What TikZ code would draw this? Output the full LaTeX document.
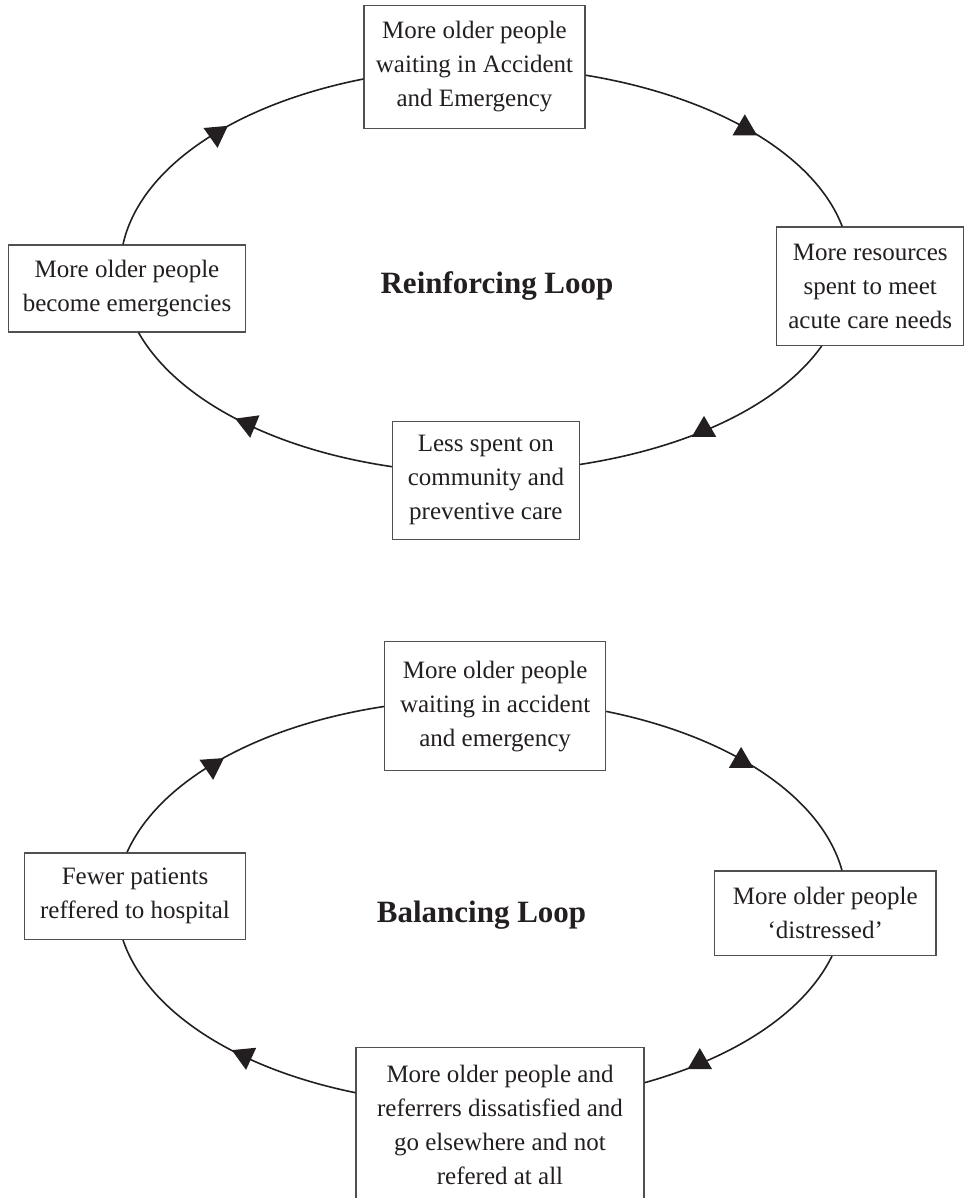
\documentclass[tikz,border=0pt]{standalone}
\usepackage{fontspec}
\setmainfont{Liberation Serif}
\definecolor{ink}{HTML}{231F20}
\definecolor{boxline}{HTML}{505050}
\tikzset{
  causebox/.style={draw=boxline, line width=1.1pt, fill=white, align=center,
    inner sep=0pt, text=ink, font=\fontsize{25}{34}\selectfont},
  looptitle/.style={inner sep=0pt, text=ink, font=\fontsize{31}{36}\selectfont\bfseries},
  loopline/.style={draw=ink, line width=1.6pt},
  headfill/.style={fill=ink},
  headup/.pic={\fill[headfill] (0,14) -- (-12.25,-7) -- (12.25,-7) -- cycle;},
  headdown/.pic={\fill[headfill] (-12.25,7) -- (12.25,7) -- (0,-14) -- cycle;}
}
\begin{document}
\begin{tikzpicture}[x=1pt, y=1pt]
\useasboundingbox (0,0) rectangle (965,-1198);
\clip (0,0) rectangle (965,-1198);

% ---------- reinforcing loop ----------
\node[causebox, minimum width=221pt, minimum height=123pt] (ta) at (474.5,-66.8)
  {More older people\\waiting in Accident\\and Emergency};
\node[causebox, minimum width=186.6pt, minimum height=118.4pt] (ra) at (870.2,-286.2)
  {More resources\\spent to meet\\acute care needs};
\node[causebox, minimum width=186.3pt, minimum height=118pt] (ba) at (485.9,-480.2)
  {Less spent on\\community and\\preventive care};
\node[causebox, minimum width=237pt, minimum height=87pt] (la) at (127,-288.5)
  {More older people\\become emergencies};
\node[looptitle] (reinf) at (497,-286.5) {Reinforcing Loop};

\draw[loopline] ([yshift=-8.4pt]ta.east) .. controls +(127.9,-20.9) and +(-27.9,73.0) .. ([xshift=-28pt]ra.north);
\draw[loopline] ([xshift=-48.5pt]ra.south) .. controls +(-42.0,-59.2) and +(109.5,16.8) .. ([yshift=15.7pt]ba.east);
\draw[loopline] ([yshift=13.5pt]ba.west) .. controls +(-120.2,17.5) and +(37.8,-66.4) .. ([xshift=11.5pt]la.south);
\draw[loopline] ([xshift=-4pt]la.north) .. controls +(16.9,76.6) and +(-129.8,-25.5) .. ([yshift=-12.2pt]ta.west);

\pic[rotate=5] at (216.3,-133.9) {headdown};
\pic at (744.8,-128.3) {headup};
\pic at (704,-429.9) {headup};
\pic[rotate=7.7] at (248.3,-423.9) {headdown};

% ---------- balancing loop ----------
\node[causebox, minimum width=221.2pt, minimum height=128.8pt] (tb) at (495.1,-706.1)
  {More older people\\waiting in accident\\and emergency};
\node[causebox, minimum width=221.5pt, minimum height=84.5pt] (rb) at (825.25,-913.25)
  {More older people\\‘distressed’};
\node[causebox, minimum width=288pt, minimum height=154.8pt] (bb) at (500,-1124.7)
  {More older people and\\referrers dissatisfied and\\go elsewhere and not\\refered at all};
\node[causebox, minimum width=221pt, minimum height=86.5pt] (lb) at (135,-896.2)
  {Fewer patients\\reffered to hospital};
\node[looptitle] (balan) at (481.5,-915.6) {Balancing Loop};

\draw[loopline] ([yshift=-5.3pt]tb.east) .. controls +(125.1,-25.3) and +(-20.3,73.2) .. ([xshift=16.75pt]rb.north);
\draw[loopline] ([xshift=6.75pt]rb.south) .. controls +(-27.3,-55.5) and +(92.4,25.8) .. ([yshift=42pt]bb.east);
\draw[loopline] ([yshift=32pt]bb.west) .. controls +(-120.9,24.6) and +(23.8,-70.4) .. ([xshift=-12pt]lb.south);
\draw[loopline] ([xshift=-8pt]lb.north) .. controls +(31.8,71.2) and +(-127.1,-19.4) .. ([yshift=-0.4pt]tb.west);

\pic[rotate=4] at (212.2,-765.9) {headdown};
\pic at (741.1,-760.9) {headup};
\pic at (699.8,-1062.1) {headup};
\pic[rotate=5.6] at (244.7,-1055.9) {headdown};
\end{tikzpicture}
\end{document}
